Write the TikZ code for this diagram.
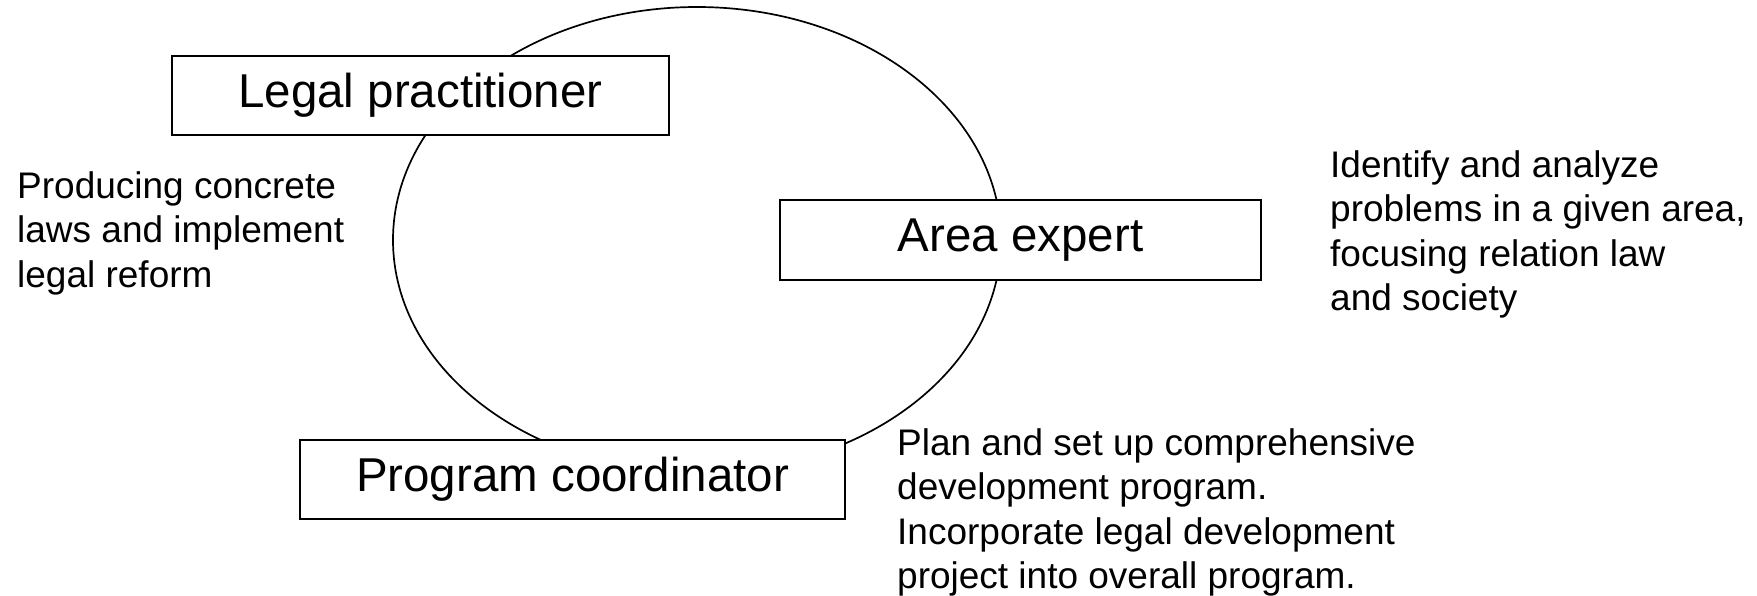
\documentclass[tikz,border=0pt]{standalone}
\usepackage{fontspec}
\setmainfont{Liberation Sans}
\usepackage{tikz}
\usetikzlibrary{shapes, positioning}

\tikzset{
  rolebox/.style={draw, line width=1.8pt, fill=white, inner sep=0pt, font=\fontsize{47.5}{57}\selectfont},
  duty/.style={anchor=north west, inner sep=0pt, align=left, font=\fontsize{37}{44.5}\selectfont}
}

\begin{document}
\begin{tikzpicture}[x=1pt, y=-1pt]
  \useasboundingbox (0,0) rectangle (1757,595);

  % the cycle behind the three roles
  \node[draw, ellipse, line width=1.7pt, inner sep=0pt, minimum width=608pt, minimum height=466pt] (cycle) at (697,240) {};

  \node[rolebox, minimum width=497pt, minimum height=79pt] (legal) at (420.5,95.5) {Legal practitioner};
  \node[rolebox, minimum width=481pt, minimum height=80pt] (area) at (1020.5,240) {Area expert};
  \node[rolebox, minimum width=545pt, minimum height=79pt] (coord) at (572.5,479.5) {Program coordinator};

  % what each role does
  \node[duty] (legalnote) at (17,171) {Producing concrete\\laws and implement\\legal reform};
  \node[duty] (areanote) at (1330,150) {Identify and analyze\\problems in a given area,\\focusing relation law\\and society};
  \node[duty] (coordnote) at (897,428) {Plan and set up comprehensive\\development program.\\Incorporate legal development\\project into overall program.};
\end{tikzpicture}
\end{document}
